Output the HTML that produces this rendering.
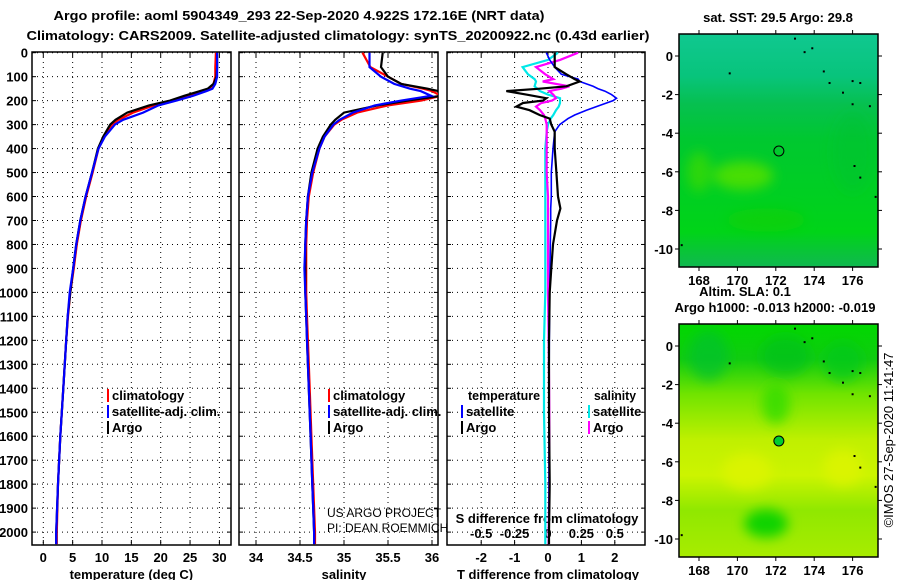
<!DOCTYPE html>
<html><head><meta charset="utf-8"><style>
html,body{margin:0;padding:0;background:#fff;}
svg{display:block;font-family:"Liberation Sans",sans-serif;}
.t{font-weight:bold;font-size:13px;fill:#000;}
</style></head><body>
<svg id="chart" width="900" height="580" viewBox="0 0 900 580">
<defs>
<linearGradient id="gTop" x1="0" y1="0" x2="0" y2="1">
<stop offset="0" stop-color="#10c890"/><stop offset="0.18" stop-color="#08c47c"/><stop offset="0.3" stop-color="#06c050"/><stop offset="0.45" stop-color="#00c830"/><stop offset="0.85" stop-color="#00d418"/><stop offset="1" stop-color="#10b850"/>
</linearGradient>
<linearGradient id="gBot" x1="0" y1="0" x2="0" y2="1">
<stop offset="0" stop-color="#00d800"/><stop offset="0.15" stop-color="#10cc10"/><stop offset="0.3" stop-color="#70e400"/><stop offset="0.5" stop-color="#c0f000"/><stop offset="0.65" stop-color="#ccf400"/><stop offset="0.8" stop-color="#90e800"/><stop offset="1" stop-color="#a8ec00"/>
</linearGradient>
<filter id="blur"><feGaussianBlur stdDeviation="6"/></filter>
<clipPath id="cTop"><rect x="679" y="34" width="199" height="233"/></clipPath>
<clipPath id="cBot"><rect x="679" y="324" width="199" height="233"/></clipPath>
<clipPath id="cP1"><rect x="32" y="52" width="199" height="493"/></clipPath>
<clipPath id="cP2"><rect x="239" y="52" width="199" height="493"/></clipPath>
<clipPath id="cP3"><rect x="447" y="52" width="198" height="493"/></clipPath>
</defs>
<text x="299" y="20" text-anchor="middle" class="t" font-size="14" textLength="491" lengthAdjust="spacingAndGlyphs">Argo profile: aoml 5904349_293 22-Sep-2020 4.922S 172.16E (NRT data)</text>
<text x="338" y="40" text-anchor="middle" class="t" font-size="14" textLength="623" lengthAdjust="spacingAndGlyphs">Climatology: CARS2009. Satellite-adjusted climatology: synTS_20200922.nc (0.43d earlier)</text>
<g id="grids"></g>
<g id="marks"></g>
<g id="maps"></g>
</svg>
<script>
// ---- data ----
const depthTicks = [0,100,200,300,400,500,600,700,800,900,1000,1100,1200,1300,1400,1500,1600,1700,1800,1900,2000];
const tempTicks = [0,5,10,15,20,25,30];
const salTicks = [34,34.5,35,35.5,36];
const salTickLabels = ["34","34.5","35","35.5","36"];
const tdiffTicks = [-2,-1,0,1,2];
const sdiffTicks = [-0.5,-0.25,0,0.25,0.5];
const sdiffTickLabels = ["-0.5","-0.25","0","0.25","0.5"];

const profDepth = [0,60,100,130,150,160,180,200,220,250,280,300,350,400,500,600,700,800,900,1000,1100,1200,1400,1600,1800,2000,2050];
const tempArgo = [29.6,29.6,29.5,29.0,28.0,26.7,24.0,21.6,18.0,14.3,12.3,11.4,10.2,9.3,8.3,7.2,6.3,5.6,5.1,4.6,4.15,3.9,3.4,2.9,2.5,2.2,2.2];
const tempClim = [29.4,29.3,29.3,29.0,28.3,27.2,24.8,22.1,18.8,15.3,12.8,11.7,10.3,9.4,8.4,7.3,6.4,5.7,5.2,4.6,4.2,3.9,3.4,2.9,2.5,2.3,2.3];
const tempSat = [29.6,29.6,29.6,29.3,28.8,27.8,25.5,22.7,19.6,17.0,13.6,12.2,10.5,9.4,8.3,7.2,6.3,5.6,5.1,4.5,4.15,3.9,3.4,2.9,2.5,2.2,2.2];
const salArgo = [35.44,35.42,35.5,35.65,35.95,36.07,36.1,35.72,35.38,35.0,34.9,34.85,34.76,34.7,34.63,34.59,34.57,34.56,34.56,34.56,34.57,34.58,34.6,34.62,34.64,34.66,34.66];
const salClim = [35.21,35.3,35.5,35.65,35.9,36.0,36.1,35.88,35.5,35.15,34.97,34.89,34.78,34.72,34.65,34.6,34.58,34.57,34.57,34.57,34.58,34.59,34.61,34.63,34.65,34.67,34.67];
const salSat = [35.29,35.29,35.42,35.57,35.75,35.87,35.99,35.65,35.35,35.1,34.95,34.88,34.78,34.72,34.64,34.59,34.57,34.56,34.55,34.56,34.57,34.58,34.6,34.62,34.64,34.66,34.66];

const diffDepth = [0,30,60,90,110,120,140,150,160,175,190,200,210,225,240,260,275,300,330,400,500,600,650,700,800,900,1000,1200,1500,1800,2000,2050];
const tdiffArgo = [0.2,0.2,0.2,0.55,0.8,0.95,0.55,-0.25,-1.25,-0.65,-0.05,-0.15,-0.75,-0.95,-0.55,-0.25,0.05,0.1,0.2,0.2,0.25,0.3,0.37,0.27,0.15,0.1,0.05,0.03,0.03,0.05,0.03,0.03];
const tdiffSat = [-0.05,0.05,0.2,0.4,0.9,0.95,1.35,1.5,1.7,1.9,2.05,1.95,1.75,1.45,1.15,0.8,0.6,0.35,0.2,0.15,0.1,0.1,0.08,0.08,0.07,0.06,0.05,0.04,0.03,0.03,0.03,0.03];
const sdiffArgo = [0.225,0.09,-0.09,-0.02,0.04,-0.04,0.16,0.1,0.01,0.04,0.06,0.03,-0.05,-0.09,-0.06,-0.03,-0.02,-0.01,-0.01,-0.01,-0.01,0,0,0,0,0,0,0.005,0.01,0.01,0.005,0.005];
const sdiffSat = [0.075,0.0,-0.19,-0.15,-0.1,-0.09,-0.1,-0.08,-0.06,0.0,0.09,0.09,0.09,0.08,0.06,0.04,0.02,0,-0.01,-0.02,-0.02,-0.02,-0.02,-0.02,-0.02,-0.02,-0.02,-0.03,-0.03,-0.02,-0.02,-0.02];

const latTicks = [0,-2,-4,-6,-8,-10];
const lonTicks = [168,170,172,174,176];
const argoLon = 172.16, argoLat = -4.922;

// ---- axes ----
const NS = "http://www.w3.org/2000/svg";
const yD = d => 52.7 + d * 0.2397;
const xT = t => 43.3 + t * 5.87;
const xS = s => 256 + (s - 34) * 88;
const xTd = t => 548 + t * 33.4;
const xSd = s => 548 + s * 133.6;
const xLon = l => 699 + (l - 168) * 19.2;
const yLatTop = l => 56 - l * 19.3;
const yLatBot = l => 346 - l * 19.3;

const grids = document.getElementById('grids');
const marks = document.getElementById('marks');
const maps = document.getElementById('maps');
function mk(tag, attrs, parent, txt){const e=document.createElementNS(NS,tag);for(const k in attrs)e.setAttribute(k,attrs[k]);if(txt!==undefined)e.textContent=txt;parent.appendChild(e);return e;}

const panels = [{x:32,w:199,name:'temperature-panel',clip:'cP1'},{x:239,w:199,name:'salinity-panel',clip:'cP2'},{x:447,w:198,name:'difference-panel',clip:'cP3'}];
panels.forEach(p=>{
  depthTicks.forEach(d=>{
    const l = mk('line',{x1:p.x,x2:p.x+p.w,y1:yD(d),y2:yD(d),stroke:'#000','stroke-width':1,'stroke-dasharray':'1,4'},grids);
    
    
    mk('line',{x1:p.x,x2:p.x+4,y1:yD(d),y2:yD(d),stroke:'#000'},grids);
    mk('line',{x1:p.x+p.w-4,x2:p.x+p.w,y1:yD(d),y2:yD(d),stroke:'#000'},grids);
  });
  const r = mk('rect',{x:p.x,y:52,width:p.w,height:493,fill:'none',stroke:'#000','stroke-width':1.5},grids);
  
  
});
depthTicks.forEach(d=>{
  const t = mk('text',{x:28,y:yD(d)+5,'text-anchor':'end',class:'t'},grids,String(d));
  
  
});
function vgrid(xs, fx, px, labels, ly){
  xs.forEach((v,i)=>{
    const x=fx(v);
    mk('line',{x1:x,x2:x,y1:52,y2:545,stroke:'#000','stroke-dasharray':'1,4'},grids);
    mk('line',{x1:x,x2:x,y1:52,y2:57,stroke:'#000'},grids);
    mk('line',{x1:x,x2:x,y1:540,y2:545,stroke:'#000'},grids);
    if(labels){
      const t = mk('text',{x:x,y:ly,'text-anchor':'middle',class:'t'},grids,labels[i]);
      
      
    }
  });
}
vgrid(tempTicks,xT,0,tempTicks.map(String),562);
vgrid(salTicks,xS,0,salTickLabels,562);
vgrid(tdiffTicks,xTd,0,tdiffTicks.map(String),562);
sdiffTicks.forEach((v,i)=>{
  const t = mk('text',{x:xSd(v),y:538,'text-anchor':'middle',class:'t'},grids,sdiffTickLabels[i]);
  
  
});
[[xT(15),'temperature (deg C)','temperature-axis-title'],[xS(35),'salinity','salinity-axis-title'],[xTd(0),'T difference from climatology','t-diff-axis-title']].forEach(a=>{
  const t = mk('text',{x:a[0],y:579,'text-anchor':'middle',class:'t'},grids,a[1]);
  
  
});
const sdt = mk('text',{x:547,y:523,'text-anchor':'middle',class:'t'},grids,'S difference from climatology');



function line(xs, ds, fx, color, w, clip, name){
  const pts = xs.map((v,i)=>fx(v).toFixed(1)+','+yD(ds[i]).toFixed(1)).join(' ');
  const p = mk('polyline',{points:pts,fill:'none',stroke:color,'stroke-width':w,'clip-path':'url(#'+clip+')'},marks);
  
  
}
line(tempClim,profDepth,xT,'#ff0000',2.2,'cP1','temp-climatology-line');
line(tempArgo,profDepth,xT,'#000',2.2,'cP1','temp-argo-line');
line(tempSat,profDepth,xT,'#0000ff',2.2,'cP1','temp-satellite-line');
line(salClim,profDepth,xS,'#ff0000',2.2,'cP2','sal-climatology-line');
line(salArgo,profDepth,xS,'#000',2.2,'cP2','sal-argo-line');
line(salSat,profDepth,xS,'#0000ff',2.2,'cP2','sal-satellite-line');
line(sdiffSat,diffDepth,xSd,'#00e8e8',2.2,'cP3','sdiff-satellite-line');
line(sdiffArgo,diffDepth,xSd,'#ff00ff',2.2,'cP3','sdiff-argo-line');
line(tdiffSat,diffDepth,xTd,'#0000ff',1.6,'cP3','tdiff-satellite-line');
line(tdiffArgo,diffDepth,xTd,'#000',2.2,'cP3','tdiff-argo-line');

function legend(x,y,color,label,name){
  const g = mk('g',{},marks);
  
  
  mk('rect',{x:x,y:y-11,width:2,height:13,fill:color},g);
  mk('text',{x:x+5,y:y,class:'t'},g,label);
}
legend(107,400,'#ff0000','climatology','legend-temp-climatology');
legend(107,416,'#0000ff','satellite-adj. clim.','legend-temp-satellite');
legend(107,432,'#000','Argo','legend-temp-argo');
legend(328,400,'#ff0000','climatology','legend-sal-climatology');
legend(328,416,'#0000ff','satellite-adj. clim.','legend-sal-satellite');
legend(328,432,'#000','Argo','legend-sal-argo');
legend(461,416,'#0000ff','satellite','legend-tdiff-satellite');
legend(461,432,'#000','Argo','legend-tdiff-argo');
legend(588,416,'#00e8e8','satellite','legend-sdiff-satellite');
legend(588,432,'#ff00ff','Argo','legend-sdiff-argo');
[[468,400,'temperature',72],[594,400,'salinity',42]].forEach(a=>{const t=mk('text',{x:a[0],y:a[1],class:'t',textLength:a[3],lengthAdjust:'spacingAndGlyphs'},marks,a[2]);});
const cr1 = mk('text',{x:327,y:517,'font-size':12,fill:'#000'},marks,'US ARGO PROJECT');


const cr2 = mk('text',{x:327,y:532,'font-size':12,fill:'#000'},marks,'PI: DEAN ROEMMICH');



// ---- maps ----
function map(y0, fyl, grad, clip, name, blobs, fillDot){
  const g = mk('g',{},maps);
  
  
  mk('rect',{x:679,y:y0,width:199,height:233,fill:'url(#'+grad+')'},g);
  const bg = mk('g',{'clip-path':'url(#'+clip+')',filter:'url(#blur)'},g);
  blobs.forEach(b=>mk('ellipse',{cx:xLon(b[0]),cy:fyl(b[1]),rx:b[2],ry:b[3],fill:b[4],opacity:b[5]},bg));
  [[173.0,0.9],[173.5,0.2],[173.9,0.4],[174.5,-0.8],[174.8,-1.4],[175.5,-1.9],[176,-1.3],[176.4,-1.4],[176,-2.5],[176.9,-2.6],[169.6,-0.9],[176.1,-5.7],[176.4,-6.3],[177.2,-7.3],[167.1,-9.8]].forEach(p=>mk('rect',{x:xLon(p[0])-1,y:fyl(p[1])-1,width:2,height:2,fill:'#000'},g));
  mk('circle',{cx:xLon(argoLon),cy:fyl(argoLat),r:5,fill:fillDot,stroke:'#000','stroke-width':1},g);
  mk('rect',{x:679,y:y0,width:199,height:233,fill:'none',stroke:'#000','stroke-width':1.5},g);
  latTicks.forEach(l=>{
    const y=fyl(l);
    mk('line',{x1:675,x2:679,y1:y,y2:y,stroke:'#000'},g);
    mk('line',{x1:878,x2:882,y1:y,y2:y,stroke:'#000'},g);
    const t=mk('text',{x:673,y:y+5,'text-anchor':'end',class:'t'},g,String(l));
    
    
  });
  lonTicks.forEach(l=>{
    const x=xLon(l);
    mk('line',{x1:x,x2:x,y1:y0-4,y2:y0,stroke:'#000'},g);
    mk('line',{x1:x,x2:x,y1:y0+233,y2:y0+237,stroke:'#000'},g);
    const t=mk('text',{x:x,y:y0+251,'text-anchor':'middle',class:'t'},g,String(l));
    
    
  });
}
map(34,yLatTop,'gTop','cTop','sst-map',[[170.3,-6.2,30,14,'#50e000',0.9],[168,-6,12,20,'#40dc00',0.7],[171.5,-8.5,40,12,'#10d000',0.5],[176,-5,20,40,'#00c030',0.4]],'none');
map(324,yLatBot,'gBot','cBot','sla-map',[[168.5,-0.5,20,25,'#00c030',0.7],[172.5,-0.5,25,20,'#00c020',0.7],[175.5,-0.8,20,20,'#00c818',0.7],[171.5,-9.2,22,14,'#00d000',0.9],[172,-3,14,20,'#30dc00',0.8],[170.5,-6.5,25,18,'#dcf400',0.9],[175.5,-6.3,20,18,'#dcf400',0.9]],'#00cc30');
[[778,22,'sat. SST: 29.5 Argo: 29.8','sst-map-title'],[745,296,'Altim. SLA: 0.1','sla-value-label'],[775,312,'Argo h1000: -0.013 h2000: -0.019','sla-map-title']].forEach(a=>{
  const t=mk('text',{x:a[0],y:a[1],'text-anchor':'middle',class:'t'},maps,a[2]);
  
  
});
const im = mk('text',{x:0,y:0,'font-size':13,fill:'#000','text-anchor':'middle',transform:'translate(893,440) rotate(-90)'},maps,'©IMOS 27-Sep-2020 11:41:47');


</script>
</body></html>
